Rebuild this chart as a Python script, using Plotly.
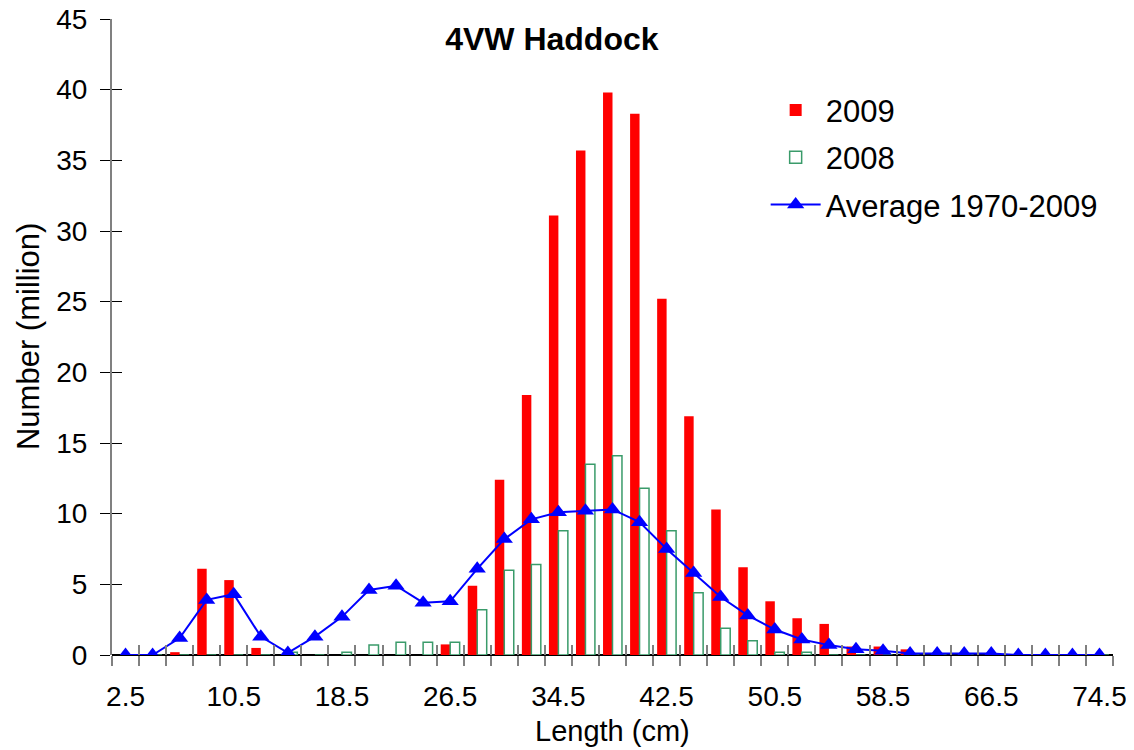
import plotly.graph_objects as go

# length classes (cm)
lengths = [2.5 + 2 * i for i in range(37)]

catch_2009 = [0, 0, 0.2, 6.1, 5.3, 0.5, 0, 0, 0, 0, 0, 0, 0.75, 4.9, 12.4, 18.4,
              31.1, 35.7, 39.8, 38.3, 25.2, 16.9, 10.3, 6.2, 3.8, 2.6, 2.2, 0.6,
              0.6, 0.4, 0, 0, 0, 0, 0, 0, 0]

catch_2008 = [0, 0, 0, 0, 0, 0, 0.2, 0, 0.2, 0.7, 0.9, 0.9, 0.9, 3.2, 6.0, 6.4,
              8.8, 13.5, 14.1, 11.8, 8.8, 4.4, 1.9, 1.0, 0.2, 0.2, 0, 0, 0, 0,
              0, 0, 0, 0, 0, 0, 0]

avg_1970_2009 = [0, 0, 1.2, 3.9, 4.3, 1.3, 0.15, 1.3, 2.7, 4.6, 4.9, 3.7, 3.8, 6.1,
                 8.2, 9.6, 10.1, 10.2, 10.3, 9.4, 7.5, 5.8, 4.1, 2.8, 1.8, 1.1, 0.7,
                 0.4, 0.3, 0.1, 0.1, 0.1, 0.1, 0, 0, 0, 0]

tick_labels = [2.5, 10.5, 18.5, 26.5, 34.5, 42.5, 50.5, 58.5, 66.5, 74.5]
class_edges = [1.5 + 2 * i for i in range(38)]

FONT = "Liberation Sans, Arial, sans-serif"
GREEN = "#3A9B6A"

fig = go.Figure()

fig.add_trace(go.Bar(
    x=lengths, y=catch_2009, name="2009",
    marker=dict(color="#FF0000", line=dict(width=0)),
    legendgroup="a",
))
fig.add_trace(go.Bar(
    x=lengths, y=catch_2008, name="2008",
    marker=dict(color="white", line=dict(color=GREEN, width=1.5)),
    legendgroup="b",
))
fig.add_trace(go.Scatter(
    x=lengths, y=avg_1970_2009, name="Average 1970-2009",
    mode="lines+markers",
    line=dict(color="#0000FF", width=2),
    marker=dict(symbol="triangle-up", size=15, color="#0000FF"),
    legendgroup="c",
))

# second overlay axes give the ticks that cross the axis lines
fig.add_trace(go.Scatter(x=[lengths[0]], y=[0], xaxis="x2", yaxis="y2",
                         mode="markers", marker=dict(opacity=0),
                         showlegend=False, hoverinfo="skip"))

# page body has an 8px margin, so the figure is a bit smaller than the window
fig.update_layout(
    width=1126, height=742,
    margin=dict(l=104, r=21, t=11, b=95),
    plot_bgcolor="white", paper_bgcolor="white",
    font=dict(family=FONT, size=28, color="black"),
    barmode="group", bargap=0.3, bargroupgap=0,
    title=dict(text="<b>4VW Haddock</b>", x=0.483, xanchor="center",
               y=0.958, yanchor="middle", font=dict(size=32)),
    showlegend=True,
    legend=dict(x=0.653, y=0.899, xanchor="left", yanchor="top",
                traceorder="grouped", tracegroupgap=4,
                font=dict(size=31), bgcolor="rgba(0,0,0,0)", itemwidth=50),
    xaxis=dict(
        range=[1.5, 75.5], tickvals=tick_labels,
        ticktext=[str(v) for v in tick_labels],
        ticks="", showgrid=False, zeroline=False, automargin=False,
        showline=False, ticklabelstandoff=22, ticklabeloverflow="allow",
        minor=dict(tickvals=class_edges, ticks="outside", ticklen=10,
                   tickcolor="#808080", tickwidth=2, showgrid=False),
        tickfont=dict(size=28),
    ),
    xaxis2=dict(
        overlaying="x", range=[1.5, 75.5], tickvals=class_edges,
        ticks="inside", ticklen=10, tickcolor="#808080", tickwidth=2,
        showticklabels=False, showgrid=False, zeroline=False, side="bottom",
    ),
    yaxis=dict(
        range=[0, 45], tickvals=list(range(0, 50, 5)),
        ticks="outside", ticklen=10, tickcolor="black", tickwidth=1,
        showgrid=False, zeroline=True, zerolinecolor="black", zerolinewidth=2,
        showline=True, linecolor="#808080", linewidth=2, automargin=False,
        ticklabelstandoff=7, ticklabeloverflow="allow",
        tickfont=dict(size=28),
    ),
    yaxis2=dict(
        overlaying="y", range=[0, 45], tickvals=list(range(0, 50, 5)),
        ticks="inside", ticklen=10, tickcolor="black", tickwidth=1,
        showticklabels=False, showgrid=False, zeroline=False, showline=False,
    ),
)

# axis titles placed as annotations so they sit where the original has them
fig.add_annotation(text="Length (cm)", xref="paper", yref="paper",
                   x=0.5, y=-0.1195, xanchor="center", yanchor="middle",
                   showarrow=False, font=dict(size=29))
fig.add_annotation(text="Number (million)", xref="paper", yref="paper",
                   x=-0.0839, y=0.5, xanchor="center", yanchor="middle",
                   textangle=-90, showarrow=False, font=dict(size=31))

fig.write_html("out.html")
